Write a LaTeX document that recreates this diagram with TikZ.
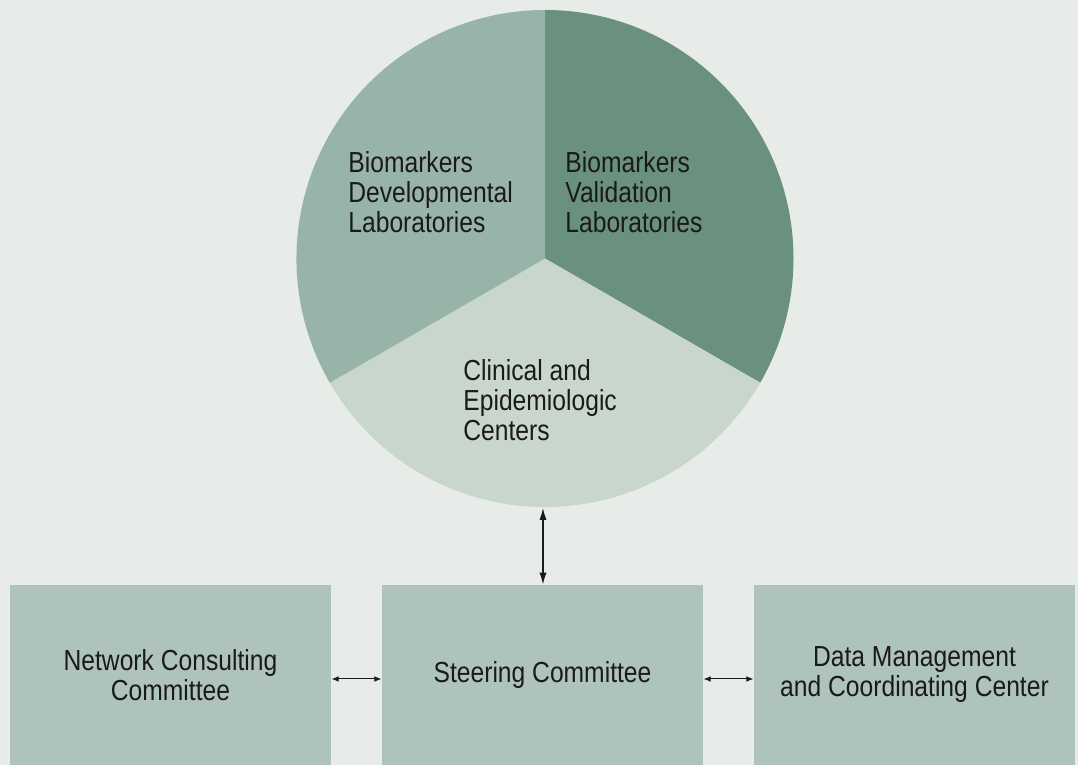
\documentclass[tikz,border=0pt]{standalone}
\usepackage{fontspec}
\setmainfont{Liberation Sans}[FakeStretch=0.85]
\usetikzlibrary{arrows.meta,positioning}

\definecolor{bgpale}{RGB}{232,236,233}
\definecolor{secleft}{RGB}{152,179,167}
\definecolor{secright}{RGB}{106,144,126}
\definecolor{secbottom}{RGB}{200,214,206}
\definecolor{boxgreen}{RGB}{174,195,185}
\definecolor{inkdark}{RGB}{26,26,26}

\begin{document}
\begin{tikzpicture}[x=0.5pt, y=0.5pt,
  sectortext/.style={anchor=north west, inner sep=0pt, align=left, text=inkdark, font=\fontsize{14.5}{15}\selectfont},
  panel/.style={rectangle, fill=boxgreen, minimum width=160.5pt, minimum height=90pt, inner sep=0pt, align=center, text=inkdark, font=\fontsize{14.5}{15}\selectfont},
  bigarrow/.style={{Latex[length=6pt,width=3.6pt]}-{Latex[length=6pt,width=3.6pt]}, line width=0.7pt, inkdark},
  smallarrow/.style={{Latex[length=3.6pt,width=2.8pt]}-{Latex[length=3.6pt,width=2.8pt]}, line width=0.5pt, inkdark}
]
% Background
\fill[bgpale] (0,0) rectangle (1078,765);
\useasboundingbox (0,0) rectangle (1078,765);

% Pie of three sectors
\coordinate (hub) at (545,506.5);
\fill[secright] (hub) -- ++(90:248.5) arc[start angle=90, end angle=-30, radius=248.5] -- cycle;
\fill[secbottom] (hub) -- ++(-30:248.5) arc[start angle=-30, end angle=-150, radius=248.5] -- cycle;
\fill[secleft] (hub) -- ++(210:248.5) arc[start angle=210, end angle=90, radius=248.5] -- cycle;

\node[sectortext] (devlab) at (348,614) {Biomarkers\\Developmental\\Laboratories};
\node[sectortext] (vallab) at (565,614) {Biomarkers\\Validation\\Laboratories};
\node[sectortext] (clinic) at (463,406) {Clinical and\\Epidemiologic\\Centers};

% Row of committees
\node[panel] (consult) at (170.5,90) {Network Consulting\\Committee};
\node[panel] (steer) at (542.5,90) {Steering Committee};
\node[panel] (datactr) at (914.5,90) {Data Management\\and Coordinating Center};

% Links
\coordinate (pieb) at (543,257);
\draw[bigarrow] (pieb) -- (pieb |- steer.north);
\draw[smallarrow] ([yshift=-2pt]consult.east) -- ([yshift=-2pt]steer.west);
\draw[smallarrow] ([yshift=-2pt]steer.east) -- ([yshift=-2pt]datactr.west);
\end{tikzpicture}
\end{document}
